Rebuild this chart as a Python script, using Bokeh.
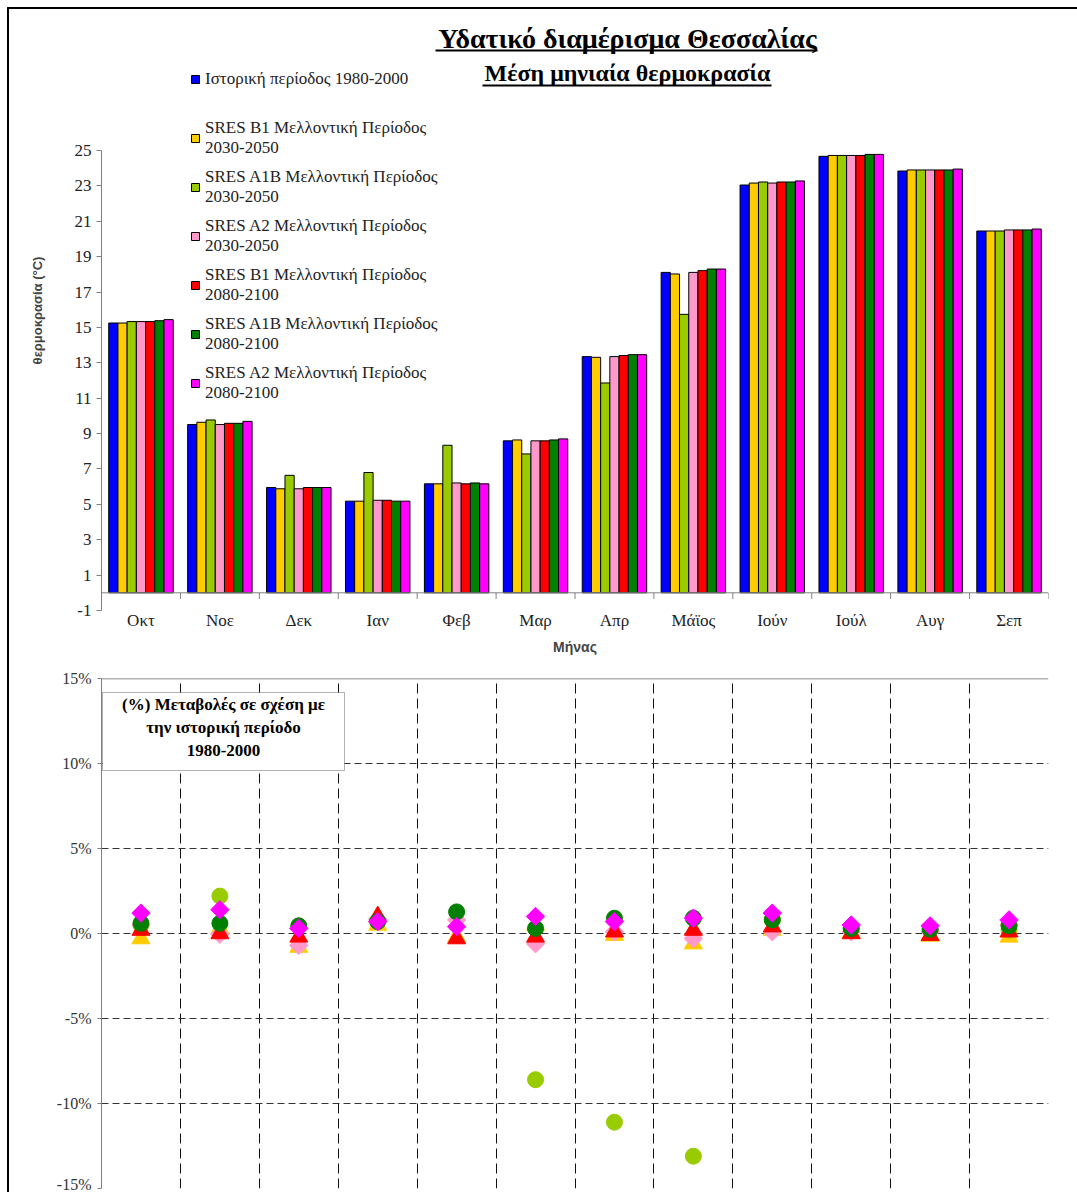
import numpy as np
from bokeh.plotting import figure
from bokeh.models import (Range1d, FixedTicker, Span, Legend, LegendItem, Label,
                          BoxAnnotation, ColumnDataSource)
from bokeh.layouts import column
from bokeh.embed import file_html
from bokeh.resources import INLINE

# ---------------- data ----------------
months = ["Οκτ", "Νοε", "Δεκ", "Ιαν", "Φεβ", "Μαρ", "Απρ", "Μάϊος", "Ιούν", "Ιούλ", "Αυγ", "Σεπ"]

hist_1980_2000 = [15.25, 9.51, 5.95, 5.18, 6.16, 8.59, 13.35, 18.11, 23.05, 24.67, 23.84, 20.45]
b1_2030 = [15.25, 9.64, 5.88, 5.18, 6.16, 8.64, 13.31, 18.02, 23.16, 24.72, 23.90, 20.45]
a1b_2030 = [15.33, 9.77, 6.64, 6.80, 8.34, 7.85, 11.86, 15.74, 23.22, 24.72, 23.90, 20.45]
a2_2030 = [15.33, 9.51, 5.88, 5.23, 6.21, 8.59, 13.35, 18.11, 23.16, 24.72, 23.90, 20.51]
b1_2080 = [15.33, 9.58, 5.95, 5.23, 6.16, 8.59, 13.41, 18.21, 23.22, 24.72, 23.90, 20.51]
a1b_2080 = [15.38, 9.58, 5.95, 5.18, 6.21, 8.64, 13.46, 18.30, 23.22, 24.78, 23.90, 20.51]
a2_2080 = [15.44, 9.69, 5.95, 5.18, 6.16, 8.70, 13.46, 18.30, 23.28, 24.78, 23.95, 20.56]

# percentage change vs historical period (%)
pct_b1_2030 = [-0.3, 0.3, -0.8, 0.5, -0.2, 0.5, -0.1, -0.6, 0.2, 0.05, -0.15, -0.2]
pct_a1b_2030 = [0.5, 2.2, 11.6, 31.0, 36.0, -8.6, -11.1, -13.1, 0.8, 0.3, 0.2, 0.2]
pct_a2_2030 = [0.5, -0.05, -0.7, 0.85, 0.8, -0.6, 0.1, -0.3, 0.1, 0.1, 0.1, 0.5]
pct_b1_2080 = [0.2, 0.0, -0.2, 1.0, -0.3, -0.2, 0.1, 0.2, 0.4, 0.0, -0.1, 0.1]
pct_a1b_2080 = [0.6, 0.6, 0.45, 0.7, 1.27, 0.3, 0.9, 0.9, 0.8, 0.3, 0.25, 0.45]
pct_a2_2080 = [1.2, 1.4, 0.3, 0.7, 0.4, 1.0, 0.7, 0.9, 1.2, 0.5, 0.45, 0.8]

legend_labels = [
    "Ιστορική περίοδος 1980-2000",
    "SRES B1 Μελλοντική Περίοδος\n2030-2050",
    "SRES A1B Μελλοντική Περίοδος\n2030-2050",
    "SRES A2 Μελλοντική Περίοδος\n2030-2050",
    "SRES B1 Μελλοντική Περίοδος\n2080-2100",
    "SRES A1B Μελλοντική Περίοδος\n2080-2100",
    "SRES A2 Μελλοντική Περίοδος\n2080-2100",
]
bar_series = [hist_1980_2000, b1_2030, a1b_2030, a2_2030, b1_2080, a1b_2080, a2_2080]
bar_colors = ["#0000FF", "#FFCC00", "#99CC00", "#FF99CC", "#FF0000", "#008000", "#FF00FF"]

pct_series = [pct_b1_2030, pct_a1b_2030, pct_a2_2030, pct_b1_2080, pct_a1b_2080, pct_a2_2080]
pct_colors = ["#FFCC00", "#99CC00", "#FF99CC", "#FF0000", "#008000", "#FF00FF"]
pct_markers = ["triangle", "circle", "square", "triangle", "circle", "square"]

temp_ticks = list(range(-1, 26, 2))
pct_ticks = [-15, -10, -5, 0, 5, 10, 15]

SERIF = "Liberation Serif"
SANS = "Liberation Sans"

n = len(months)
idx = np.arange(n)
centers = idx + 0.5
bw = 0.1167

# ---------------- top chart ----------------
# frame extends above the value axis so that title and legend lie inside it
FH1 = 600
y_top = -1 + FH1 * 26 / 460
p1 = figure(frame_width=947, frame_height=FH1, x_range=Range1d(0, 12), y_range=Range1d(-1, y_top),
            output_backend="svg", toolbar_location=None,
            min_border_left=92, min_border_right=29, min_border_top=1, min_border_bottom=50)
p1.xgrid.visible = False
p1.ygrid.visible = False
p1.outline_line_color = None

yax = p1.yaxis[0]
yax.bounds = (-1, 25)
yax.ticker = FixedTicker(ticks=temp_ticks)
yax.major_label_overrides = {t: str(t) for t in temp_ticks}
yax.axis_line_color = "#808080"
yax.major_tick_line_color = "#808080"
yax.major_tick_out = 5
yax.major_tick_in = 0
yax.minor_tick_line_color = None
yax.major_label_text_font = SERIF
yax.major_label_text_font_size = "17px"
yax.major_label_text_color = "#222222"
yax.major_label_standoff = 5
yax.axis_label = "θερμοκρασία (°C)"
yax.axis_label_text_font = SANS
yax.axis_label_text_font_style = "bold"
yax.axis_label_text_font_size = "13px"
yax.axis_label_standoff = 27

xax = p1.xaxis[0]
xax.ticker = FixedTicker(ticks=list(centers))
xax.major_label_overrides = {float(c): m for c, m in zip(centers, months)}
xax.axis_line_color = None
xax.major_tick_line_color = None
xax.major_tick_out = 0
xax.major_tick_in = 0
xax.minor_tick_line_color = None
xax.minor_tick_out = 0
xax.major_label_text_font = SERIF
xax.major_label_text_font_size = "17px"
xax.major_label_text_color = "#222222"
xax.major_label_standoff = 0
xax.axis_label = "Μήνας"
xax.axis_label_text_font = SANS
xax.axis_label_text_font_style = "bold"
xax.axis_label_text_font_size = "14px"
xax.axis_label_standoff = 6

renderers = []
for j, (vals, col) in enumerate(zip(bar_series, bar_colors)):
    src = ColumnDataSource(dict(x=centers + (j - 3) * bw, top=vals))
    r = p1.vbar(x="x", top="top", bottom=0, width=bw, source=src,
                fill_color=col, line_color="black", line_width=1)
    renderers.append(r)

p1.add_layout(Span(location=0, dimension="width", line_color="#808080", line_width=1))
bounds = np.arange(n + 1)
p1.segment(x0=bounds, y0=0, x1=bounds, y1=-0.35, line_color="#808080", line_width=1)

p1.add_layout(Label(x=526, y=572, x_units="screen", y_units="screen",
                    text="Υδατικό διαμέρισμα Θεσσαλίας", text_align="center", text_baseline="middle",
                    text_font=SERIF, text_font_size="28px", text_font_style="bold", text_color="black"))
p1.add_layout(Label(x=526, y=538, x_units="screen", y_units="screen",
                    text="Μέση μηνιαία θερμοκρασία", text_align="center", text_baseline="middle",
                    text_font=SERIF, text_font_size="24px", text_font_style="bold", text_color="black"))
p1.add_layout(BoxAnnotation(left=334, right=716, top=561, bottom=559,
                            left_units="screen", right_units="screen", top_units="screen", bottom_units="screen",
                            fill_color="black", fill_alpha=1, line_color=None))
p1.add_layout(BoxAnnotation(left=381, right=670, top=526, bottom=524,
                            left_units="screen", right_units="screen", top_units="screen", bottom_units="screen",
                            fill_color="black", fill_alpha=1, line_color=None))

leg_style = dict(orientation="vertical", padding=0, margin=0,
                 border_line_color=None, background_fill_alpha=0,
                 label_text_font=SERIF, label_text_font_size="17px", label_text_color="#222222",
                 glyph_width=10, glyph_height=10, label_standoff=5, label_height=20)
legend_a = Legend(items=[LegendItem(label=legend_labels[0], renderers=[renderers[0]])],
                  location=(89, 521), spacing=0, **leg_style)
legend_b = Legend(items=[LegendItem(label=l, renderers=[r])
                         for l, r in zip(legend_labels[1:], renderers[1:])],
                  location=(89, 207), spacing=9, **leg_style)
p1.add_layout(legend_a, "center")
p1.add_layout(legend_b, "center")

# ---------------- bottom chart ----------------
p2 = figure(frame_width=947, frame_height=510, x_range=Range1d(0, 12), y_range=Range1d(-15, 15),
            output_backend="svg", toolbar_location=None,
            min_border_left=92, min_border_right=29, min_border_top=18, min_border_bottom=4)
p2.outline_line_color = None
p2.xaxis.visible = False
yax2 = p2.yaxis[0]
yax2.ticker = FixedTicker(ticks=pct_ticks)
yax2.major_label_overrides = {t: f"{t}%" for t in pct_ticks}
yax2.axis_line_color = "#808080"
yax2.major_tick_line_color = "#808080"
yax2.major_tick_out = 4
yax2.major_tick_in = 0
yax2.minor_tick_line_color = None
yax2.major_label_text_font = SERIF
yax2.major_label_text_font_size = "16px"
yax2.major_label_text_color = "#333333"
yax2.major_label_standoff = 6

p2.ygrid.ticker = FixedTicker(ticks=pct_ticks)
p2.ygrid.grid_line_color = "#333333"
p2.ygrid.grid_line_dash = "7 4"
p2.xgrid.ticker = FixedTicker(ticks=list(range(1, 13)))
p2.xgrid.grid_line_color = "#111111"
p2.xgrid.grid_line_dash = "10 5"
p2.add_layout(Span(location=15, dimension="width", line_color="#666666", line_width=1.5))

for vals, col, mk in zip(pct_series, pct_colors, pct_markers):
    if mk == "square":
        p2.scatter(x=centers, y=vals, marker="square", angle=np.pi / 4, size=13,
                   fill_color=col, line_color=col)
    elif mk == "circle":
        p2.scatter(x=centers, y=vals, marker="circle", size=16, fill_color=col, line_color=col)
    else:
        p2.scatter(x=centers, y=vals, marker="triangle", size=18, fill_color=col, line_color=col)

p2.add_layout(BoxAnnotation(left=1, right=243, top=496, bottom=418,
                            left_units="screen", right_units="screen", top_units="screen", bottom_units="screen",
                            fill_color="white", fill_alpha=1, line_color="black", line_width=1))
for yy, t in zip([484, 461, 438], ["(%) Μεταβολές σε σχέση με", "την ιστορική περίοδο", "1980-2000"]):
    p2.add_layout(Label(x=122, y=yy, x_units="screen", y_units="screen", text=t,
                        text_align="center", text_baseline="middle",
                        text_font=SERIF, text_font_size="17px", text_font_style="bold", text_color="black"))

layout = column(p1, p2, spacing=0,
                styles={"margin-left": "7px", "margin-top": "7px",
                        "border-left": "2px solid black", "border-top": "2px solid black"})

open("out.html", "w").write(file_html(layout, INLINE))
